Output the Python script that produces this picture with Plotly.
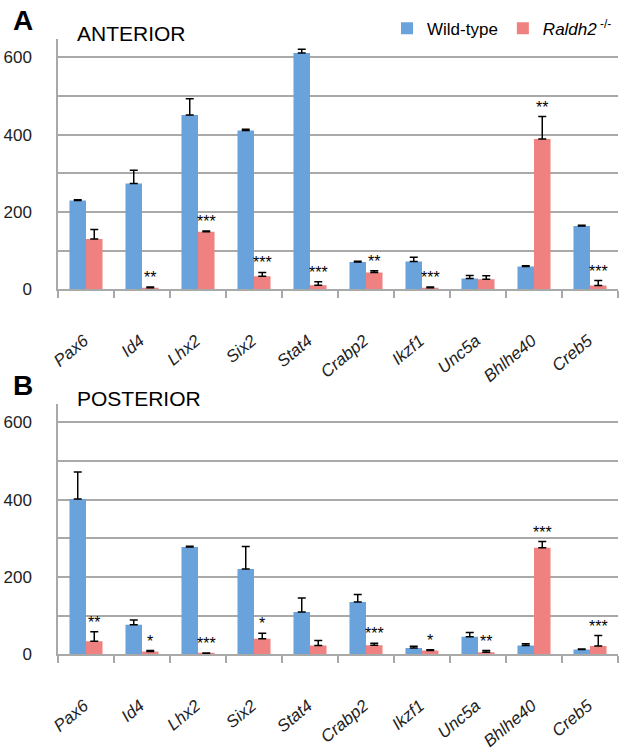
import plotly.graph_objects as go

genes = ["Pax6", "Id4", "Lhx2", "Six2", "Stat4", "Crabp2", "Ikzf1", "Unc5a", "Bhlhe40", "Creb5"]

# Panel A - anterior
ant_wt = [230, 274, 451, 411, 611, 71, 72, 28, 59, 164]
ant_wt_err = [2, 34, 42, 3, 10, 2, 11, 8, 2, 2]
ant_ko = [130, 4, 149, 34, 11, 44, 4, 26, 389, 10]
ant_ko_err = [25, 2, 2, 10, 9, 4, 2, 9, 58, 13]
ant_sig = ["", "**", "***", "***", "***", "**", "***", "", "**", "***"]

# Panel B - posterior
post_wt = [402, 77, 278, 221, 110, 136, 17, 46, 23, 13]
post_wt_err = [70, 12, 2, 58, 36, 19, 4, 11, 5, 1]
post_ko = [34, 8, 3, 41, 23, 24, 10, 6, 276, 22]
post_ko_err = [25, 2, 1, 14, 13, 5, 2, 4, 16, 27]
post_sig = ["**", "*", "***", "*", "", "***", "*", "**", "***", "***"]

BLUE = "#6aa3dc"
RED = "#ef8281"
GRID = "#a9a9a9"
FONT = "Liberation Sans, Arial, sans-serif"

fig = go.Figure()

def add_panel(wt, wt_err, ko, ko_err, xa, ya, show):
    fig.add_trace(go.Bar(
        x=genes, y=wt, name="Wild-type", marker_color=BLUE, marker_line_width=0,
        error_y=dict(type="data", symmetric=False, array=wt_err, arrayminus=[0] * len(wt),
                     color="black", thickness=1.5, width=4),
        xaxis=xa, yaxis=ya, showlegend=show, legendgroup="wt"))
    fig.add_trace(go.Bar(
        x=genes, y=ko, name="<i>Raldh2</i><sup> -/-</sup>", marker_color=RED, marker_line_width=0,
        error_y=dict(type="data", symmetric=False, array=ko_err, arrayminus=[0] * len(ko),
                     color="black", thickness=1.5, width=4),
        xaxis=xa, yaxis=ya, showlegend=show, legendgroup="ko"))

add_panel(ant_wt, ant_wt_err, ant_ko, ant_ko_err, "x", "y", True)
add_panel(post_wt, post_wt_err, post_ko, post_ko_err, "x2", "y2", False)

annotations = []
for sig, vals, errs, xr, yr in [(ant_sig, ant_ko, ant_ko_err, "x", "y"),
                                (post_sig, post_ko, post_ko_err, "x2", "y2")]:
    for g, s, v, e in zip(genes, sig, vals, errs):
        if s:
            annotations.append(dict(x=g, y=v + e, xref=xr, yref=yr, text=s, showarrow=False,
                                    xshift=8, yshift=-1, yanchor="bottom",
                                    font=dict(size=16, color="black", family=FONT)))

annotations += [
    dict(text="<b>A</b>", x=-0.0625, y=1 - 21 / 752, xref="paper", yref="paper", showarrow=False,
         xanchor="center", yanchor="middle", font=dict(size=28, color="black", family=FONT)),
    dict(text="ANTERIOR", x=(75 - 58) / 560, y=1 - 34 / 752, xref="paper", yref="paper", showarrow=False,
         xanchor="left", yanchor="middle", font=dict(size=21, color="black", family=FONT)),
    dict(text="<b>B</b>", x=-0.0625, y=1 - 391 / 752, xref="paper", yref="paper", showarrow=False,
         xanchor="center", yanchor="middle", font=dict(size=28, color="black", family=FONT)),
    dict(text="POSTERIOR", x=(75 - 58) / 560, y=1 - 404 / 752, xref="paper", yref="paper", showarrow=False,
         xanchor="left", yanchor="middle", font=dict(size=21, color="black", family=FONT)),
]

xcommon = dict(type="category", showline=True, linecolor=GRID, linewidth=1.5,
               ticks="outside", tickson="boundaries", ticklen=7, tickcolor=GRID, tickwidth=1.5,
               tickangle=-40, tickfont=dict(size=17, color="#222", family=FONT, style="italic"),
               ticklabelstandoff=33, ticklabelshift=-2,
               showgrid=False, zeroline=False, domain=[0, 1])
ycommon = dict(range=[0, 648], dtick=200, tick0=0, showline=True, linecolor=GRID, linewidth=1.5,
               showgrid=True, gridcolor=GRID, gridwidth=1.5, zeroline=False,
               minor=dict(dtick=100, showgrid=True, gridcolor=GRID, gridwidth=1.5),
               ticks="", tickfont=dict(size=17, color="#222", family=FONT), ticklabelstandoff=21)

fig.update_layout(
    width=625, height=752,
    margin=dict(l=58, r=7, t=0, b=0),
    paper_bgcolor="white", plot_bgcolor="white",
    barmode="group", bargap=0.41, bargroupgap=0,
    xaxis=dict(**xcommon, anchor="y"),
    yaxis=dict(**ycommon, domain=[1 - 293.3 / 752, 1 - 39.3 / 752]),
    xaxis2=dict(**xcommon, anchor="y2"),
    yaxis2=dict(**ycommon, domain=[1 - 663.3 / 752, 1 - 409.3 / 752]),
    legend=dict(orientation="h", x=(387 - 58) / 560, y=1 - 29 / 752, xanchor="left", yanchor="middle",
                font=dict(size=17, color="black", family=FONT), bgcolor="rgba(0,0,0,0)",
                traceorder="normal"),
    annotations=annotations,
    font=dict(family=FONT),
)

fig.write_html("out.html")
